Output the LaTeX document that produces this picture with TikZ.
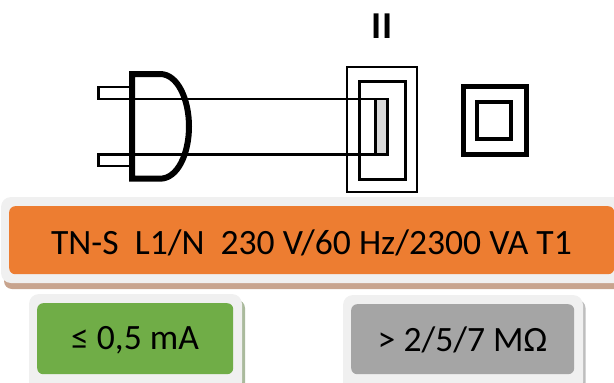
\documentclass[tikz,border=0pt]{standalone}
\usepackage{fontspec}
\setmainfont{Carlito}
\definecolor{orangebox}{HTML}{ED7D31}
\definecolor{greenbox}{HTML}{70AD47}
\definecolor{greybox}{HTML}{A5A5A5}
\definecolor{halo}{HTML}{F0F0F0}
\tikzset{
  sym/.style={draw=black,line join=miter},
  label text/.style={font=\fontsize{35.6}{38}\selectfont,text=black,inner sep=0pt},
  small text/.style={font=\fontsize{35.6}{38}\selectfont,text=black,inner sep=0pt},
}
\begin{document}
\begin{tikzpicture}[x=1pt,y=-1pt]
\useasboundingbox (0,0) rectangle (614,383);
\clip (0,0) rectangle (614,383);
% class label
\node[inner sep=0pt,font=\bfseries\fontsize{38}{40}\selectfont] (classlabel) at (382,26) {II};
% plug pins and wires
\draw[sym,line width=2.7pt] (130,87) -- (98.2,87) -- (98.2,99) -- (388,99);
\draw[sym,line width=2.7pt] (388,154.5) -- (98.2,154.5) -- (98.2,166) -- (130,166);
% plug body
\draw[sym,line width=6pt] (132,74) -- (160,74) .. controls (178,74) and (189,100) .. (189,126.5) .. controls (189,153) and (178,178.7) .. (160,178.7) -- (132,178.7) -- cycle;
% device
\draw[sym,line width=2pt] (347,67) rectangle (417,192);
\draw[sym,line width=3pt] (359.5,81) rectangle (405,179);
\filldraw[draw=black,fill=black!15,line width=2.7pt] (375.7,99) rectangle (387.7,154.5);
% class II symbol
\draw[sym,line width=5pt] (463,86.5) rectangle (526,154.5);
\draw[sym,line width=4pt] (477,102) rectangle (511,139);
% orange box
\fill[color={rgb,255:red,200;green,164;blue,142},rounded corners=8pt] (4,205) rectangle (640,289);
\fill[halo,rounded corners=10pt] (1,197) rectangle (640,283);
\node[fill=orangebox,rounded corners=6pt,minimum width=605pt,minimum height=68pt,inner sep=0pt,anchor=north west] (mains) at (9,206) {};
\node[label text] (mainstext) at (311.5,243) {TN-S\ \ L1/N\ \ 230 V/60 Hz/2300 VA T1};
% green box
\fill[color={rgb,255:red,170;green,186;blue,156},rounded corners=8pt] (33,300) rectangle (245,395);
\fill[halo,rounded corners=10pt] (29,294) rectangle (242,392);
\node[fill=greenbox,rounded corners=6pt,minimum width=196pt,minimum height=71pt,inner sep=0pt,anchor=north west] (leak) at (37,303) {};
\node[small text] (leaktext) at (135,340) {≤ 0,5 mA};
% grey box
\fill[color={rgb,255:red,190;green,190;blue,190},rounded corners=8pt] (347,300) rectangle (585.5,395);
\fill[halo,rounded corners=10pt] (343,295) rectangle (583,392);
\node[fill=greybox,rounded corners=6pt,minimum width=223pt,minimum height=70pt,inner sep=0pt,anchor=north west] (insul) at (351,304) {};
\node[small text] (insultext) at (462.5,340) {> 2/5/7 MΩ};
\end{tikzpicture}
\end{document}
